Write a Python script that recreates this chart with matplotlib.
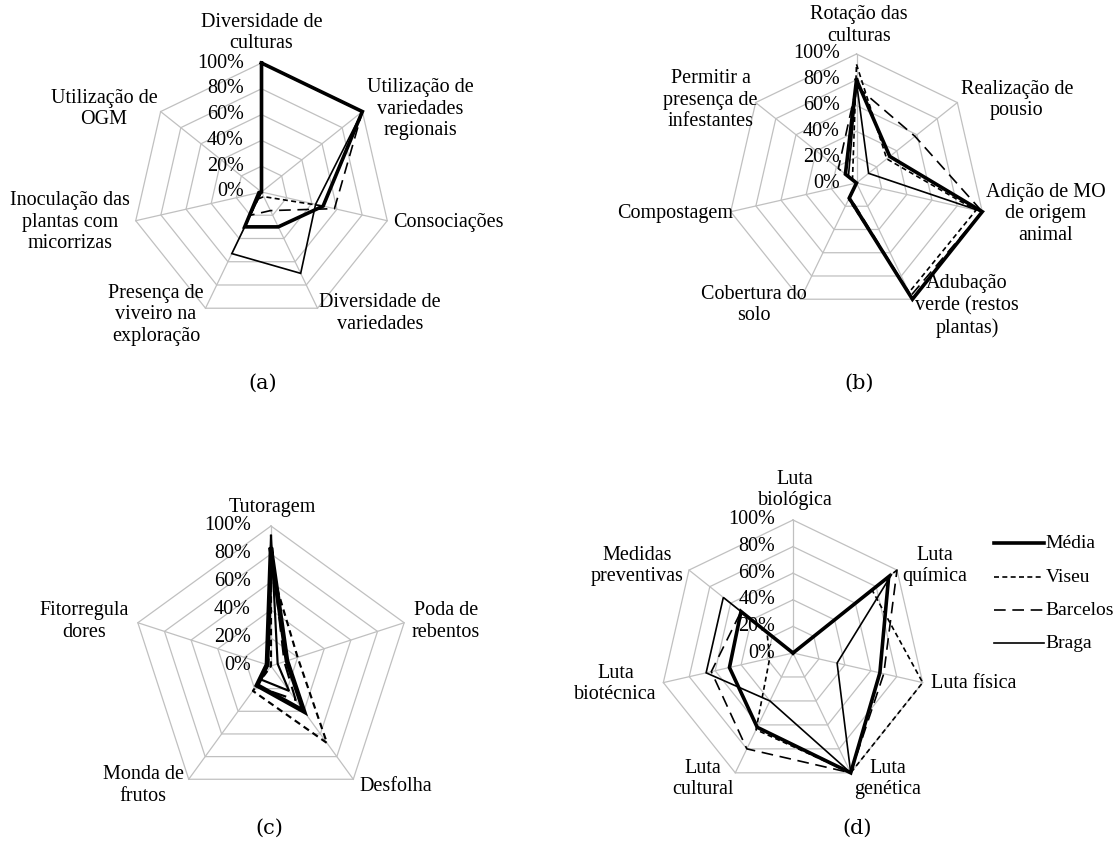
import numpy as np
import matplotlib
matplotlib.use("Agg")
import matplotlib.pyplot as plt

W, H = 1116, 841

series_names = ["Média", "Viseu", "Barcelos", "Braga"]
ticks = [0, 20, 40, 60, 80, 100]

# (a)
cats_a = ["Diversidade de\nculturas", "Utilização de\nvariedades\nregionais", "Consociações",
          "Diversidade de\nvariedades", "Presença de\nviveiro na\nexploração",
          "Inoculação das\nplantas com\nmicorrizas", "Utilização de\nOGM"]
media_a = [100, 100, 49, 30, 30, 2, 0]
viseu_a = [100, 100, 49, 4, 6, 0, 0]
barcelos_a = [100, 100, 58, 16, 20, 0, 0]
braga_a = [100, 100, 43, 70, 53, 0, 0]

# (b)
cats_b = ["Rotação das\nculturas", "Realização de\npousio", "Adição de MO\nde origem\nanimal",
          "Adubação\nverde (restos\nplantas)", "Cobertura do\nsolo", "Compostagem",
          "Permitir a\npresença de\ninfestantes"]
media_b = [80, 33, 100, 100, 13, 0, 11]
viseu_b = [92, 30, 95, 94, 14, 0, 4]
barcelos_b = [75, 58, 100, 97, 12, 0, 18]
braga_b = [78, 12, 100, 100, 13, 0, 8]

# (c)
cats_c = ["Tutoragem", "Poda de\nrebentos", "Desfolha", "Monda de\nfrutos", "Fitorregula\ndores"]
media_c = [83, 12, 40, 17, 3]
viseu_c = [70, 20, 68, 22, 0]
barcelos_c = [86, 10, 30, 18, 2]
braga_c = [93, 5, 22, 12, 3]

# (d)
cats_d = ["Luta\nbiológica", "Luta\nquímica", "Luta física", "Luta\ngenética",
          "Luta\ncultural", "Luta\nbiotécnica", "Medidas\npreventivas"]
media_d = [0, 92, 67, 100, 62, 49, 50]
viseu_d = [0, 76, 100, 100, 64, 18, 25]
barcelos_d = [0, 100, 70, 100, 80, 63, 50]
braga_d = [0, 95, 34, 100, 40, 67, 67]

styles = {
    "Média": dict(color="black", lw=2.6, ls="-"),
    "Viseu": dict(color="black", lw=1.2, ls=(0, (3, 2))),
    "Barcelos": dict(color="black", lw=1.2, ls=(0, (7, 4))),
    "Braga": dict(color="black", lw=1.2, ls="-"),
}

SERIF = "Liberation Serif"
FS = 14.5
GRID = "#c0c0c0"

plt.rcParams["font.family"] = [SERIF, "DejaVu Serif"]

fig = plt.figure(figsize=(W / 100, H / 100), dpi=100)


def make_ax(cx, cy, R):
    S = 1.1 * R
    ax = fig.add_axes([(cx - S) / W, 1 - (cy + S) / H, 2 * S / W, 2 * S / H])
    ax.set_xlim(-1.1, 1.1)
    ax.set_ylim(-1.1, 1.1)
    ax.axis("off")
    ax.patch.set_alpha(0)
    return ax


def radar(ax, cats, data, label_xy, tick_x, tag, tag_xy, lw_scale=1.0):
    n = len(cats)
    ang = np.arange(n) * 2 * np.pi / n
    sx, sy = np.sin(ang), np.cos(ang)
    for t in ticks[1:]:
        r = t / 100
        ax.plot(np.append(sx, sx[0]) * r, np.append(sy, sy[0]) * r, color=GRID, lw=0.9, zorder=1)
    for k in range(n):
        ax.plot([0, sx[k]], [0, sy[k]], color=GRID, lw=0.9, zorder=1)
    for t in ticks:
        ax.text(tick_x, t / 100, f"{t}%", ha="right", va="center", fontsize=14.5, zorder=5)
    for name, vals in zip(series_names, data):
        v = np.array(vals, dtype=float) / 100
        st = dict(styles[name])
        st["lw"] = st["lw"] * lw_scale
        ax.plot(np.append(sx * v, sx[0] * v[0]), np.append(sy * v, sy[0] * v[0]),
                zorder=3, solid_joinstyle="miter", **st)
    for c, (lx, ly) in zip(cats, label_xy):
        ax.text(lx, ly, c, ha="center", va="center", fontsize=FS, linespacing=1.2)
    ax.text(tag_xy[0], tag_xy[1], tag, ha="center", va="center", fontsize=15,
            family="DejaVu Serif")


ax_a = make_ax(261.5, 192, 129)
radar(ax_a, cats_a, [media_a, viseu_a, barcelos_a, braga_a],
      [(0, 1.232), (1.229, 0.643), (1.446, -0.233), (0.919, -0.942),
       (-0.818, -0.953), (-1.484, -0.233), (-1.221, 0.643)],
      -0.136, "(a)", (0.01, -1.48))

ax_b = make_ax(856.5, 183, 129)
radar(ax_b, cats_b, [media_b, viseu_b, barcelos_b, braga_b],
      [(0.02, 1.222), (1.244, 0.643), (1.469, -0.240), (0.857, -0.953),
       (-0.798, -0.946), (-1.407, -0.233), (-1.132, 0.643)],
      -0.131, "(b)", (0.02, -1.55))

ax_c = make_ax(271, 666, 140)
radar(ax_c, cats_c, [media_c, viseu_c, barcelos_c, braga_c],
      [(0.007, 1.135), (1.25, 0.318), (0.893, -0.864), (-0.914, -0.854), (-1.336, 0.318)],
      -0.143, "(c)", (-0.014, -1.157), lw_scale=1.3)

ax_d = make_ax(793, 653, 133)
radar(ax_d, cats_d, [media_d, viseu_d, barcelos_d, braga_d],
      [(0.015, 1.225), (1.068, 0.654), (1.361, -0.226), (0.714, -0.947),
       (-0.677, -0.947), (-1.335, -0.233), (-1.173, 0.654)],
      -0.135, "(d)", (0.485, -1.316))

# legend for (d)
leg_y = [0.827, 0.571, 0.323, 0.075]
for name, ly in zip(series_names, leg_y):
    ax_d.plot([1.515, 1.885], [ly, ly], clip_on=False, **styles[name])
    ax_d.text(1.90, ly, name, ha="left", va="center", fontsize=14)

fig.savefig("out.png", dpi=100)
